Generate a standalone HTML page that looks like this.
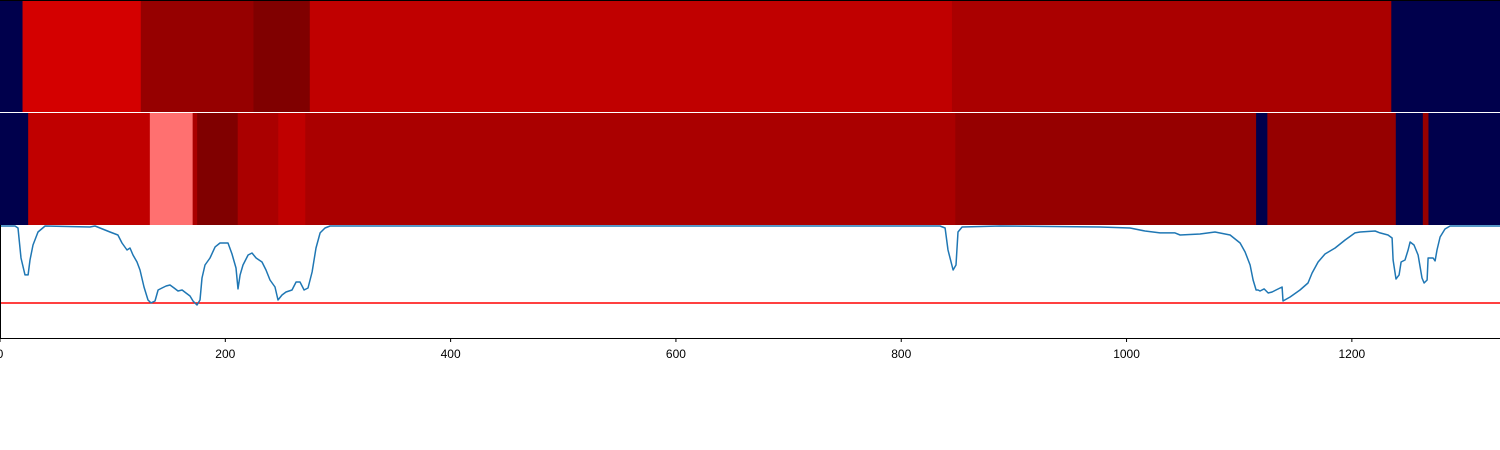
<!DOCTYPE html>
<html><head><meta charset="utf-8">
<style>
html,body{margin:0;padding:0;background:#fff;width:1500px;height:450px;overflow:hidden}
svg{display:block;font-family:"Liberation Sans","DejaVu Sans",sans-serif}
</style></head>
<body>
<svg id="chart" width="1500" height="450" viewBox="0 0 1500 450"></svg>
<script>
// data
const topEdges=[0,20,125,225,275,845,1235,1331.5];
const topValues=[0,0.834,0.956,1.0,0.874,0.917,0];
const midEdges=[0,25,133,171,175,211,247,271,848,1115,1125,1239,1263,1268,1331.5];
const midValues=[0,0.874,0.64,0.917,1.0,0.917,0.874,0.917,0.956,0,0.956,0,0.956,0];
const lineX=[0,13.3,16,18.6,22.2,24.9,26.6,29.3,33.7,40,
79.9,84.3,97.6,104.7,108.3,112.7,115.4,118.1,121.6,124.3,
127.8,131.4,134,137.6,140.3,143.8,147.4,150.9,154.5,158,
161.6,165.1,168.7,171.3,174.9,177.5,179.3,182,186.4,190.9,
195.3,202.4,205.9,209.5,211.3,213.1,215.7,220.2,223.7,227.3,
232.6,236.1,239.7,244.1,246.8,250.3,253.9,259.2,262.8,266.3,
269.9,273.4,277,280.5,284.1,288.5,293,834.4,838.9,841.5,
846,848.6,850.4,854,887.7,976.5,1003.1,1016.4,1029.7,1043,
1047.5,1065.2,1078.5,1091.9,1100.8,1105.2,1109.7,1112.3,1115,1116.8,
1118.5,1122.1,1125.7,1129.2,1132.7,1138.1,1138.9,1145.2,1154,1161.1,
1164.7,1170,1176.2,1185.1,1194,1202.8,1207.3,1220.6,1225,1232.1,
1235.7,1236.6,1239.2,1241.9,1243.7,1247.2,1249.9,1251.7,1255.2,1258.8,
1262.3,1264.1,1266.8,1267.7,1272.1,1273.9,1275.6,1278.3,1282.7,1287.2,
1331.5];
const lineY=[1,1,0.982,0.714,0.563,0.563,0.696,0.83,0.946,1,
0.991,1,0.946,0.92,0.848,0.786,0.804,0.741,0.679,0.607,
0.455,0.339,0.313,0.33,0.429,0.446,0.464,0.473,0.446,0.42,
0.429,0.402,0.375,0.33,0.295,0.339,0.536,0.652,0.714,0.813,
0.848,0.848,0.75,0.625,0.438,0.563,0.652,0.741,0.759,0.714,
0.679,0.607,0.518,0.455,0.339,0.384,0.411,0.429,0.5,0.5,
0.429,0.446,0.589,0.804,0.938,0.982,1,1,0.982,0.786,
0.607,0.652,0.946,0.991,1,0.991,0.982,0.955,0.938,0.938,
0.92,0.929,0.946,0.92,0.848,0.768,0.652,0.518,0.429,0.429,
0.42,0.438,0.402,0.411,0.429,0.455,0.33,0.366,0.429,0.491,
0.58,0.679,0.75,0.804,0.875,0.938,0.946,0.955,0.938,0.92,
0.893,0.696,0.527,0.563,0.679,0.696,0.786,0.857,0.83,0.741,
0.536,0.491,0.518,0.714,0.714,0.688,0.786,0.902,0.973,1,
1];
const threshold=0.3125;
const xTicks=[0,200,400,600,800,1000,1200];

const NS="http://www.w3.org/2000/svg";
const svg=document.getElementById('chart');
const X0=0,X1=1500,DMAX=1331.5;
const xs=v=>X0+(v/DMAX)*(X1-X0);
const LY0=338,LY1=226;
const ys=v=>LY0-v*(LY0-LY1);
function seismic(v){
  let r,g,b;
  if(v<0.25){const t=v/0.25;r=0;g=0;b=76+t*179;}
  else if(v<0.5){const t=(v-0.25)/0.25;r=255*t;g=255*t;b=255;}
  else if(v<0.75){const t=(v-0.5)/0.25;r=255;g=255*(1-t);b=255*(1-t);}
  else{const t=Math.min(1,(v-0.75)/0.25);r=255-127*t;g=0;b=0;}
  return `rgb(${Math.round(r)},${Math.round(g)},${Math.round(b)})`;
}
function mk(tag,attrs){const e=document.createElementNS(NS,tag);for(const k in attrs)e.setAttribute(k,attrs[k]);svg.appendChild(e);return e;}
function band(edges,vals,y,h,name){
  for(let i=0;i<vals.length;i++){
    const x=xs(edges[i]),w=xs(edges[i+1])-x;
    const r=mk('rect',{x:x,y:y,width:w+0.5,height:h,fill:seismic(vals[i])});
    
    
  }
}
band(topEdges,topValues,0,112,'top-heatmap');
band(midEdges,midValues,113,112,'mid-heatmap');
const f1=mk('line',{x1:0,x2:1500,y1:0.5,y2:0.5,stroke:'#000','stroke-width':1});


const tl=mk('line',{x1:0,x2:1500,y1:ys(threshold),y2:ys(threshold),stroke:'#ff0000','stroke-width':1.5});


let d='';
const n=Math.min(lineX.length,lineY.length);
for(let i=0;i<n;i++)d+=(i?'L':'M')+xs(lineX[i]).toFixed(1)+','+ys(lineY[i]).toFixed(1);
const p=mk('path',{d:d,fill:'none',stroke:'#1f77b4','stroke-width':1.5,'stroke-linejoin':'round'});


const ax=mk('line',{x1:0,x2:1500,y1:338.5,y2:338.5,stroke:'#000','stroke-width':1});


const ly=mk('line',{x1:0.5,x2:0.5,y1:225,y2:338.5,stroke:'#000','stroke-width':1});


xTicks.forEach(t=>{
  const tk=mk('line',{x1:xs(t),x2:xs(t),y1:338,y2:342,stroke:'#000','stroke-width':1});
  
  
  const tx=mk('text',{x:xs(t),y:358,'text-anchor':'middle','font-size':12,fill:'#000'});
  tx.textContent=t;
  
  
});
</script>
</body></html>
